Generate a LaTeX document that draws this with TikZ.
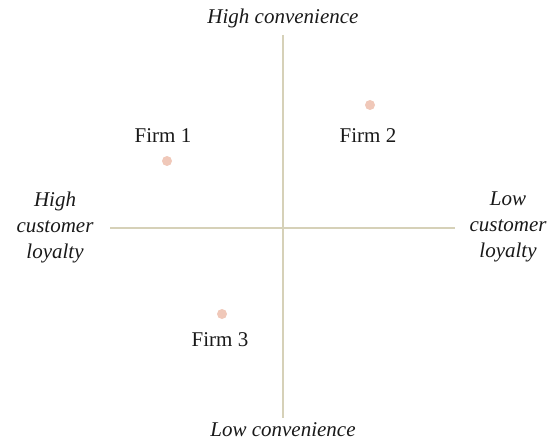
\documentclass[tikz,border=0pt]{standalone}
\usepackage{fontspec}
\setmainfont{Liberation Serif}
\usepackage{xcolor}
\usetikzlibrary{positioning}
\definecolor{myaxis}{RGB}{214,209,184}
\definecolor{mydot}{RGB}{240,200,185}
\tikzstyle{axis} = [line width=2.6pt, draw=myaxis]
\tikzstyle{firmdot} = [circle, fill=mydot, inner sep=0pt, minimum size=10pt]
\tikzstyle{firmlabel} = [font=\fontsize{21}{25}\selectfont, text=black!90, inner sep=0pt]
\tikzstyle{polelabel} = [font=\fontsize{21}{26}\selectfont\itshape, text=black!90, align=center, inner sep=0pt]

\begin{document}
\begin{tikzpicture}[x=1pt,y=-1pt]
\useasboundingbox (0,0) rectangle (559,441);
% axes
\coordinate (top) at (283,35);
\coordinate (bottom) at (283,418);
\coordinate (left) at (110,228);
\coordinate (right) at (455,228);
\draw[axis] (top) -- (bottom);
\draw[axis] (left) -- (right);

% poles
\node[polelabel] (highconv) at (283,18) {High convenience};
\node[polelabel] (lowconv) at (283,430) {Low convenience};
\node[polelabel] (highloyal) at (55,227) {High\\customer\\loyalty};
\node[polelabel] (lowloyal) at (508,227) {Low\\customer\\loyalty};

% firms
\node[firmdot] (firm1) at (167,161) {};
\node[firmlabel] (firm1text) at (163,136) {Firm 1};
\node[firmdot] (firm2) at (370,105) {};
\node[firmlabel] (firm2text) at (368,136) {Firm 2};
\node[firmdot] (firm3) at (222,314) {};
\node[firmlabel] (firm3text) at (220,340) {Firm 3};
\end{tikzpicture}
\end{document}
